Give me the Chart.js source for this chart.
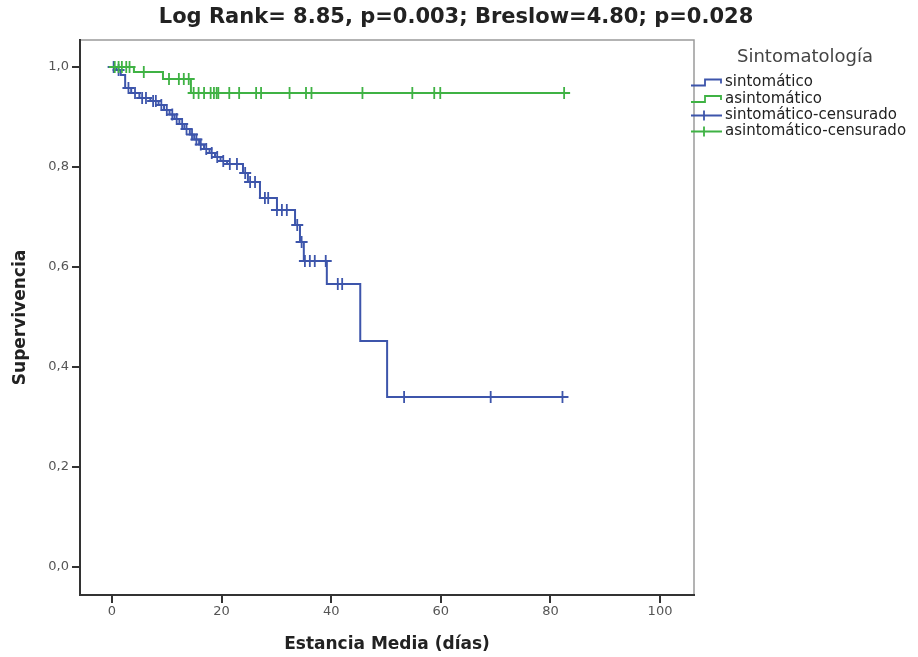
<!DOCTYPE html>
<html><head><meta charset="utf-8">
<script src="https://cdn.jsdelivr.net/npm/chart.js@4.4.1/dist/chart.umd.min.js"></script>
<style>html,body{margin:0;padding:0;background:#fff;}</style>
</head><body>
<canvas id="c" width="918" height="657"></canvas>
<script>
const chartTitle = 'Log Rank= 8.85, p=0.003; Breslow=4.80; p=0.028';
const legendTitle = 'Sintomatología';
const seriesNames = ['sintomático', 'asintomático', 'sintomático-censurado', 'asintomático-censurado'];
const xAxisTitle = 'Estancia Media (días)';
const yAxisTitle = 'Supervivencia';
const xTicks = [0, 20, 40, 60, 80, 100];
const xTickLabels = ['0', '20', '40', '60', '80', '100'];
const yTicks = [0, 0.2, 0.4, 0.6, 0.8, 1.0];
const yTickLabels = ['0,0', '0,2', '0,4', '0,6', '0,8', '1,0'];

// sintomático: event times and survival after each event
const sintTimes = [0, 0.8, 1.6, 2.4, 3.5, 5.0, 7.0, 8.5, 9.5, 10.5, 11.4, 12.3, 13.2, 14.2, 15.0, 15.9, 16.8, 17.8, 18.8, 19.8, 21.0, 23.9, 24.8, 27.0, 30.1, 33.4, 34.3, 35.0, 39.2, 45.3, 50.2, 82.2];
const sintSurv  = [1.0, 0.994, 0.984, 0.958, 0.948, 0.938, 0.932, 0.924, 0.914, 0.905, 0.896, 0.886, 0.876, 0.865, 0.855, 0.845, 0.836, 0.828, 0.82, 0.812, 0.806, 0.788, 0.77, 0.738, 0.714, 0.684, 0.65, 0.612, 0.566, 0.452, 0.34, 0.34];
const sintCensored = [0.3, 1.2, 3.0, 4.2, 5.5, 6.2, 7.5, 8.0, 9.0, 10.0, 11.0, 11.8, 12.8, 13.6, 14.6, 15.4, 16.2, 17.2, 18.2, 19.2, 20.3, 21.5, 22.8, 24.3, 25.2, 26.1, 27.9, 28.5, 30.1, 31.0, 31.9, 33.8, 34.6, 35.2, 36.1, 37.0, 39.0, 41.2, 42.0, 53.3, 69.1, 82.2];

// asintomático
const asinTimes = [0, 4.0, 9.3, 14.4, 82.5];
const asinSurv  = [1.0, 0.99, 0.976, 0.948, 0.948];
const asinCensored = [0.5, 1.2, 1.8, 2.6, 3.2, 5.8, 10.4, 12.2, 13.1, 14.0, 14.9, 15.8, 16.8, 18.0, 18.6, 19.1, 19.4, 21.4, 23.2, 26.3, 27.2, 32.4, 35.4, 36.4, 45.7, 54.8, 58.8, 59.9, 82.5];

const blue = '#3d55ab';
const green = '#3fb244';
const FONT = '"DejaVu Sans", Verdana, sans-serif';

function stepPoints(times, surv) {
  return times.map((t, i) => ({x: t, y: surv[i]}));
}
function survAt(times, surv, t) {
  let s = surv[0];
  for (let i = 0; i < times.length; i++) { if (times[i] <= t) s = surv[i]; }
  return s;
}
function censorPoints(cens, times, surv) {
  return cens.map(t => ({x: t, y: survAt(times, surv, t)}));
}

const decor = {
  id: 'decor',
  beforeDraw(chart) {
    const {ctx, chartArea: a} = chart;
    ctx.save();
    ctx.strokeStyle = '#9a9a9a';
    ctx.lineWidth = 1.5;
    ctx.strokeRect(a.left, a.top, a.right - a.left, a.bottom - a.top);
    ctx.restore();
  },
  afterDraw(chart) {
    const {ctx} = chart;
    ctx.save();
    ctx.fillStyle = '#222';
    ctx.font = 'bold 21px ' + FONT;
    ctx.textAlign = 'center';
    ctx.textBaseline = 'middle';
    ctx.fillText(chartTitle, 456, 18);

    ctx.fillStyle = '#444';
    ctx.font = '18px ' + FONT;
    ctx.fillText(legendTitle, 805, 57);

    const ys = [82.5, 99, 115.5, 131.5];
    const cols = [blue, green, blue, green];
    ctx.textAlign = 'left';
    ctx.font = '15px ' + FONT;
    for (let i = 0; i < 4; i++) {
      const y = ys[i];
      ctx.strokeStyle = cols[i];
      ctx.lineWidth = 1.8;
      ctx.beginPath();
      if (i < 2) {
        ctx.moveTo(691, y + 3); ctx.lineTo(705, y + 3); ctx.lineTo(705, y - 3);
        ctx.lineTo(721, y - 3); ctx.lineTo(721, y + 1);
      } else {
        ctx.moveTo(691, y); ctx.lineTo(722, y);
        ctx.moveTo(704, y - 5); ctx.lineTo(704, y + 5);
      }
      ctx.stroke();
      ctx.fillStyle = '#222';
      ctx.fillText(seriesNames[i], 725, y);
    }
    ctx.restore();
  }
};

new Chart(document.getElementById('c'), {
  type: 'line',
  data: {
    datasets: [
      {label: seriesNames[1], data: stepPoints(asinTimes, asinSurv), stepped: true, borderColor: green, borderWidth: 2, pointRadius: 0, fill: false},
      {label: seriesNames[3], data: censorPoints(asinCensored, asinTimes, asinSurv), showLine: false, pointStyle: 'cross', pointRadius: 6, borderColor: green, backgroundColor: green, pointBorderWidth: 1.8},
      {label: seriesNames[0], data: stepPoints(sintTimes, sintSurv), stepped: true, borderColor: blue, borderWidth: 2, pointRadius: 0, fill: false},
      {label: seriesNames[2], data: censorPoints(sintCensored, sintTimes, sintSurv), showLine: false, pointStyle: 'cross', pointRadius: 6, borderColor: blue, backgroundColor: blue, pointBorderWidth: 1.8}
    ]
  },
  options: {
    responsive: false,
    animation: false,
    devicePixelRatio: 1,
    layout: {padding: {top: 40, right: 224, left: 0, bottom: 0}},
    plugins: {legend: {display: false}, title: {display: false}, tooltip: {enabled: false}},
    scales: {
      x: {
        type: 'linear', min: -5.84, max: 106.2,
        afterBuildTicks: s => { s.ticks = xTicks.map(v => ({value: v})); },
        afterFit: s => { s.height = 62; },
        ticks: {callback: v => xTickLabels[xTicks.indexOf(v)], color: '#555', font: {family: FONT, size: 13}, padding: 1, maxRotation: 0},
        grid: {display: true, drawOnChartArea: false, drawTicks: true, tickLength: 8, color: '#333', lineWidth: 2},
        border: {display: true, color: '#333', width: 2},
        title: {display: true, text: xAxisTitle, color: '#222', font: {family: FONT, size: 17, weight: 'bold'}, padding: {top: 0, bottom: 2}}
      },
      y: {
        type: 'linear', min: -0.056, max: 1.054,
        afterBuildTicks: s => { s.ticks = yTicks.map(v => ({value: v})); },
        afterFit: s => { s.width = 80; },
        ticks: {callback: v => yTickLabels[yTicks.indexOf(v)], color: '#555', font: {family: FONT, size: 13}, padding: 3},
        grid: {display: true, drawOnChartArea: false, drawTicks: true, tickLength: 8, color: '#333', lineWidth: 2},
        border: {display: true, color: '#333', width: 2},
        title: {display: true, text: yAxisTitle, color: '#222', font: {family: FONT, size: 17, weight: 'bold'}, padding: {top: 10, bottom: 0}}
      }
    }
  },
  plugins: [decor]
});
</script>
</body></html>
